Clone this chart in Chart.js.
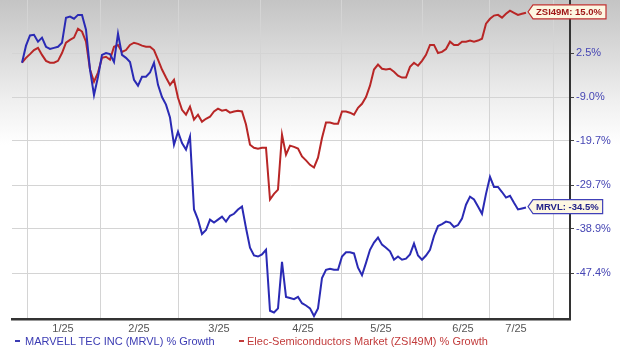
<!DOCTYPE html>
<html>
<head>
<meta charset="utf-8">
<script src="https://cdn.jsdelivr.net/npm/chart.js@4.4.1/dist/chart.umd.min.js"></script>
<style>
  html, body { margin: 0; padding: 0; }
  body {
    width: 620px; height: 351px; overflow: hidden; position: relative;
    font-family: "Liberation Sans", Arial, sans-serif;
    background: linear-gradient(#c4c4c4 0px, #d9d9d9 50px, #efefef 100px, #fff 145px, #fff 351px);
  }
  #wrap { position: absolute; left: 0; top: 0; width: 620px; height: 351px; }
  .leg { position: absolute; top: 335px; font-size: 11px; line-height: 12px; white-space: nowrap; }
  .leg i { position: absolute; top: 5px; width: 5px; height: 2px; }
</style>
</head>
<body>
<div id="wrap"><canvas id="chart" width="620" height="351"></canvas></div>
<div class="leg" style="left:25px;color:#3b3bb3"><i style="left:-10px;background:#3b3bb3"></i>MARVELL TEC INC (MRVL) % Growth</div>
<div class="leg" style="left:247px;color:#c23b3b"><i style="left:-8px;background:#c23b3b"></i>Elec-Semiconductors Market (ZSI49M) % Growth</div>
<script>
// % growth since start, sampled evenly through the period
const mrvl = [
  -0.1, 4.5, 7.3, 7.5, 5.6, 6.7, 4.2, 3.6, 3.9, 4.2,
  5.3, 12.3, 12.6, 12.0, 13.1, 13.1, 8.9, -1.9, -8.5, -3.8,
  2.0, 2.5, 2.2, 0.1, 7.8, 2.0, 1.2, 0.1, -4.6, -6.1,
  -3.8, -3.8, -2.7, -0.1, -5.9, -9.0, -10.9, -14.1, -20.6, -17.5,
  -20.2, -21.7, -18.7, -34.9, -37.0, -39.9, -39.1, -37.0, -37.6, -37.0,
  -36.4, -37.4, -36.2, -35.8, -34.9, -34.3, -38.7, -42.6, -44.1, -44.3,
  -43.9, -43.0, -54.1, -54.4, -53.7, -45.3, -51.7, -51.9, -52.1, -51.7,
  -52.8, -53.2, -53.7, -55.0, -53.7, -48.3, -46.8, -46.6, -46.8, -46.8,
  -44.3, -43.5, -43.5, -43.7, -46.4, -47.8, -45.5, -43.0, -41.6, -40.6,
  -42.0, -42.6, -43.3, -44.9, -44.3, -44.9, -44.7, -43.9, -41.8, -44.1,
  -44.9, -44.1, -43.0, -40.3, -38.3, -37.9, -37.4, -37.6, -38.5, -38.1,
  -36.8, -33.9, -32.2, -32.8, -34.3, -35.8, -31.6, -27.9, -30.1, -30.1,
  -31.2, -32.4, -32.0, -33.5, -34.9, -34.7, -34.5
]
const zsi = [
  -0.1, 1.2, 2.2, 3.3, 3.9, 2.0, 0.4, -0.1, -0.1, 0.4,
  2.5, 5.3, 6.1, 6.7, 9.2, 8.4, 5.6, -1.9, -5.1, -2.7,
  1.2, 1.5, 0.7, 4.2, 4.7, 2.8, 3.3, 4.7, 5.3, 5.0,
  4.5, 4.2, 4.2, 3.3, 0.7, -1.9, -4.0, -5.9, -4.6, -9.2,
  -12.2, -13.4, -11.4, -14.6, -13.4, -15.1, -14.4, -13.9, -12.6, -11.9,
  -12.4, -12.2, -12.9, -12.6, -12.4, -12.6, -15.8, -20.6, -21.3, -21.5,
  -21.3, -21.3, -32.8, -31.6, -30.7, -18.2, -22.9, -20.8, -21.1, -21.5,
  -23.3, -24.2, -25.2, -25.8, -23.6, -19.0, -15.3, -15.3, -15.6, -15.6,
  -12.6, -12.6, -12.9, -13.4, -11.7, -10.7, -9.0, -6.1, -1.9, -0.6,
  -1.7, -1.9, -1.7, -2.5, -3.5, -4.0, -4.0, -1.2, -0.1, -0.9,
  0.4, 2.0, 4.7, 4.7, 2.5, 2.8, 3.6, 5.6, 4.7, 4.7,
  5.6, 5.6, 5.9, 5.6, 5.9, 6.4, 10.6, 12.0, 12.9, 13.1,
  12.3, 13.4, 14.3, 13.7, 13.1, 13.4, 13.7
]
const endLabels = ["MRVL: -34.5%", "ZSI49M: 15.0%"]

// y axis ticks (the source chart uses a compressed growth scale)
const yTickValues = [2.5, -9.0, -19.7, -29.7, -38.9, -47.4]
const yTickLabels = ["2.5%", "-9.0%", "-19.7%", "-29.7%", "-38.9%", "-47.4%"]
const yMinPct = -55.5, yMaxPct = 17.4

// x axis: month boundaries (grid) and month labels, in sample-index units
const monthStarts = [1.25, 19.5, 39, 59.5, 79.75, 100, 116.75, 132.75]
const monthLabelAt = [10.25, 29.25, 49.25, 70.25, 89.75, 110.25, 123.5]
const monthLabels = ["1/25", "2/25", "3/25", "4/25", "5/25", "6/25", "7/25"]
const xMin = -2.5, xMax = 137

const growthScale = (p) => Math.pow(1 + p / 100, 0.43)

const font = { family: "'Liberation Sans', Arial, sans-serif", size: 11 }

const calloutPlugin = {
  id: "callouts",
  afterDatasetsDraw(chart) {
    const ctx = chart.ctx
    const styles = [
      { border: "#4040b8", text: "#23238a" },
      { border: "#c03030", text: "#a01818" },
    ]
    chart.data.datasets.forEach((ds, i) => {
      const meta = chart.getDatasetMeta(i)
      const pt = meta.data[meta.data.length - 1]
      const txt = endLabels[i]
      ctx.save()
      ctx.font = "bold 9.5px 'Liberation Sans', Arial, sans-serif"
      const w = ctx.measureText(txt).width + 7
      const tipX = pt.x + 2
      let cy = pt.y - 1
      if (cy < 10) cy = 10
      const h = 7
      ctx.beginPath()
      ctx.moveTo(tipX, cy)
      ctx.lineTo(tipX + 5, cy - h)
      ctx.lineTo(tipX + 5 + w, cy - h)
      ctx.lineTo(tipX + 5 + w, cy + h)
      ctx.lineTo(tipX + 5, cy + h)
      ctx.closePath()
      ctx.fillStyle = "#fdf7e2"
      ctx.fill()
      ctx.lineWidth = 1.2
      ctx.strokeStyle = styles[i].border
      ctx.stroke()
      ctx.fillStyle = styles[i].text
      ctx.textBaseline = "middle"
      ctx.fillText(txt, tipX + 8, cy + 0.5)
      ctx.restore()
    })
  },
}

const ctx = document.getElementById("chart").getContext("2d")
new Chart(ctx, {
  type: "line",
  data: {
    datasets: [
      {
        label: "MARVELL TEC INC (MRVL) % Growth",
        data: mrvl.map((v, i) => ({ x: i, y: growthScale(v) })),
        borderColor: "#2a2ab4",
        borderWidth: 2,
        pointRadius: 0,
        tension: 0,
      },
      {
        label: "Elec-Semiconductors Market (ZSI49M) % Growth",
        data: zsi.map((v, i) => ({ x: i, y: growthScale(v) })),
        borderColor: "#b82626",
        borderWidth: 2,
        pointRadius: 0,
        tension: 0,
      },
    ],
  },
  options: {
    responsive: false,
    animation: false,
    layout: { padding: { left: 12, top: 0, right: 0, bottom: 0 } },
    plugins: { legend: { display: false }, tooltip: { enabled: false } },
    scales: {
      xGrid: {
        type: "linear",
        position: "top",
        min: xMin,
        max: xMax,
        afterBuildTicks: (s) => { s.ticks = monthStarts.map((v) => ({ value: v })) },
        afterFit: (s) => { s.height = 0 },
        ticks: { display: false },
        grid: { color: "#d4d4d4", drawTicks: false },
        border: { display: false },
      },
      x: {
        type: "linear",
        position: "bottom",
        min: xMin,
        max: xMax,
        afterBuildTicks: (s) => { s.ticks = monthLabelAt.map((v) => ({ value: v })) },
        afterFit: (s) => { s.height = 32 },
        ticks: {
          autoSkip: false,
          maxRotation: 0,
          padding: 3,
          color: "#555",
          font: font,
          callback: (v, i) => monthLabels[i],
        },
        grid: { display: false, drawTicks: false },
        border: { display: true, color: "#333", width: 2.5 },
      },
      y: {
        type: "linear",
        position: "right",
        min: growthScale(yMinPct),
        max: growthScale(yMaxPct),
        afterBuildTicks: (s) => { s.ticks = yTickValues.map((v) => ({ value: growthScale(v) })) },
        afterFit: (s) => { s.width = 50; s.paddingTop = 0; s.paddingBottom = 0 },
        ticks: {
          padding: 2,
          color: "#4646b4",
          font: font,
          callback: (v, i) => yTickLabels[i],
        },
        grid: { color: "#d4d4d4", tickColor: "#444", tickLength: 4 },
        border: { display: true, color: "#333", width: 2 },
      },
    },
  },
  plugins: [calloutPlugin],
})
</script>
</body>
</html>
